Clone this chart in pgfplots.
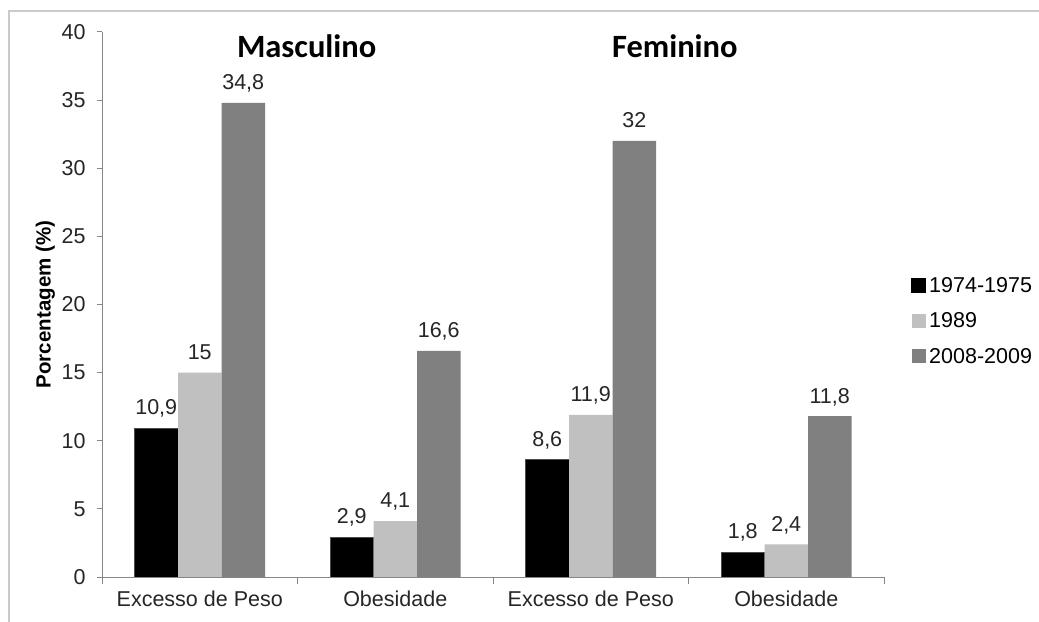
\documentclass[border=0pt]{standalone}
\usepackage{fontspec}
\setmainfont{Liberation Sans}
\newfontfamily\titlefont{Carlito}
\usepackage{pgfplots}
\pgfplotsset{compat=1.18}
\definecolor{sA}{HTML}{000000}
\definecolor{sB}{HTML}{C0C0C0}
\definecolor{sC}{HTML}{808080}
\definecolor{axgray}{HTML}{868686}
\definecolor{framegray}{HTML}{CACACA}
\begin{document}
\begin{tikzpicture}
\useasboundingbox (0,0) rectangle (1039bp,622bp);
\fill[white] (0,0) rectangle (1039bp,622bp);
\draw[framegray, line width=2bp] (9bp,0) -- (9bp,611bp) -- (1039bp,611bp);
\begin{axis}[
  at={(102bp,45bp)}, anchor=south west,
  scale only axis, width=782bp, height=545bp,
  xmin=-0.5, xmax=3.5, ymin=0, ymax=40,
  ybar=0pt, bar width=43.5bp,
  ytick={0,5,...,40},
  xtick={0,1,2,3},
  xticklabels={Excesso de Peso, Obesidade, Excesso de Peso, Obesidade},
  minor xtick={-0.5,0.5,1.5,2.5,3.5},
  major x tick style={draw=none},
  axis x line=bottom, axis y line=left,
  axis line style={-, draw=axgray, line width=1bp},
  tick align=outside,
  tick style={draw=axgray, line width=1bp},
  major tick length=5bp, minor tick length=7bp,
  /pgf/number format/assume math mode=true,
  ticklabel style={font=\fontsize{21.5bp}{25bp}\selectfont, text=black!85},
  xticklabel style={yshift=-5bp},
  yticklabel style={xshift=-8bp},
  ylabel={Porcentagem (\%)},
  ylabel style={font=\bfseries\fontsize{20.5bp}{24bp}\selectfont, at={(axis description cs:-0.0725,0.5)}, anchor=center, rotate=0},
  nodes near coords,
  /pgf/number format/use comma,
  every node near coord/.append style={font=\fontsize{21.5bp}{25bp}\selectfont, text=black!85, text depth=0pt, inner sep=0pt, yshift=13bp},
  legend style={at={(axis description cs:1.0345,0.556)}, anchor=north west, draw=none, fill=none,
    font=\fontsize{21.5bp}{25bp}\selectfont, row sep=13bp, inner sep=0pt,
    nodes={inner sep=3bp}},
  legend cell align=left,
]
\addplot[fill=sA, draw=black!70, line width=1bp, legend image code/.code={\fill[sA] (0bp,-7bp) rectangle (14bp,7bp);}] coordinates {(0,10.9) (1,2.9) (2,8.6) (3,1.8)};
\addplot[fill=sB, draw=none, legend image code/.code={\fill[sB] (0bp,-7bp) rectangle (14bp,7bp);}] coordinates {(0,15) (1,4.1) (2,11.9) (3,2.4)};
\addplot[fill=sC, draw=none, legend image code/.code={\fill[sC] (0bp,-7bp) rectangle (14bp,7bp);}] coordinates {(0,34.8) (1,16.6) (2,32) (3,11.8)};
\legend{1974-1975,1989,2008-2009}
\node[font=\titlefont\bfseries\fontsize{32.5bp}{36bp}\selectfont, anchor=base] at (axis cs:0.547,38.1) {Masculino};
\node[font=\titlefont\bfseries\fontsize{32.5bp}{36bp}\selectfont, anchor=base] at (axis cs:2.43,38.1) {Feminino};
\end{axis}
\end{tikzpicture}
\end{document}
